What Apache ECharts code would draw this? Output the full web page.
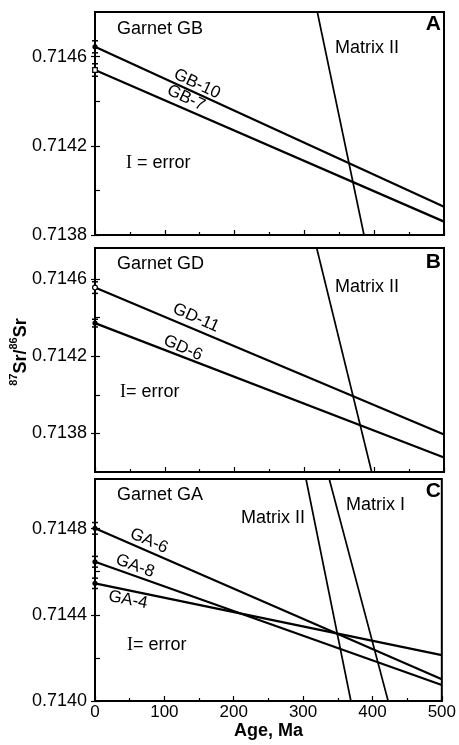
<!DOCTYPE html>
<html><head><meta charset="utf-8">
<script src="https://cdn.jsdelivr.net/npm/echarts@6/dist/echarts.min.js"></script>
<style>html,body{margin:0;padding:0;background:#fff}#c{width:459px;height:745px}</style>
</head><body><div id="c"></div>
<script>
// ---------- data ----------
const ages = [0, 500];
// Panel A (Garnet GB)
const gb10 = [0.714644, 0.713927];
const gb7  = [0.714540, 0.713860];
const matrixIIA = [[318.5, 0.7148], [385.4, 0.7138]];
// Panel B (Garnet GD)
const gd11 = [0.714555, 0.713794];
const gd6  = [0.714371, 0.713675];
const matrixIIB = [[317.6, 0.71476], [396.4, 0.7136]];
// Panel C (Garnet GA)
const ga6 = [0.714801, 0.714101];
const ga8 = [0.714646, 0.714074];
const ga4 = [0.714546, 0.714213];
const matrixIIC = [[304.2, 0.71503], [368.9, 0.7140]];
const matrixIC  = [[337.7, 0.71503], [422.6, 0.7140]];
// error bars at age 0: [age, value, half error, marker (0 filled circle, 1 open circle, 2 open square)]
const errA = [[0, 0.714644, 0.000027, 0], [0, 0.714540, 0.000028, 2]];
const errB = [[0, 0.714555, 0.000030, 1], [0, 0.714371, 0.000020, 0]];
const errC = [[0, 0.714801, 0.000027, 0], [0, 0.714646, 0.000025, 0], [0, 0.714546, 0.000024, 0]];
// axes
const xTickLabels = [0, 100, 200, 300, 400, 500];
const yExtA = [0.7138, 0.7148];
const yExtB = [0.7136, 0.71476];
const yExtC = [0.7140, 0.71503];
const yLabelsA = [0.7138, 0.7142, 0.7146];
const yMinorA  = [0.7140, 0.7144];
const yLabelsB = [0.7138, 0.7142, 0.7146];
const yMinorB  = [0.7140, 0.7144];
const yLabelsC = [0.7140, 0.7144, 0.7148];
const yMinorC  = [0.7142, 0.7146];

// ---------- chart ----------
const FONT = "'Liberation Sans', Arial, Helvetica, sans-serif";
const rects = [
  {left: 95, top: 12,  width: 349, height: 223},
  {left: 95, top: 248, width: 349, height: 224},
  {left: 95, top: 479, width: 349, height: 222}
];
const yExts = [yExtA, yExtB, yExtC];
const yLabs = [yLabelsA, yLabelsB, yLabelsC];
const yMins = [yMinorA, yMinorB, yMinorC];

const grids = [], xAxes = [], yAxes = [], series = [];
rects.forEach((r, i) => {
  grids.push(Object.assign({show: true, borderColor: '#000', borderWidth: 2, backgroundColor: 'transparent'}, r));
});
// extra grids for outside parts of major y ticks
rects.forEach((r) => grids.push(Object.assign({show: false}, r)));

rects.forEach((r, i) => {
  xAxes.push({
    gridIndex: i, type: 'value', min: ages[0], max: ages[1], interval: 100,
    axisLine: {show: true, lineStyle: {color: '#000', width: 2}},
    axisTick: {show: true, inside: true, length: 5, lineStyle: {color: '#000', width: 1.2}},
    minorTick: {show: true, splitNumber: 2, length: 3, lineStyle: {color: '#000', width: 1.2}},
    splitLine: {show: false}, minorSplitLine: {show: false},
    axisLabel: {show: i === 2, customValues: xTickLabels, color: '#000', fontSize: 17, fontFamily: FONT, margin: 3},
    name: i === 2 ? 'Age, Ma' : '', nameLocation: 'middle', nameGap: 20,
    nameTextStyle: {color: '#000', fontSize: 18, fontWeight: 'bold', fontFamily: FONT}
  });
  yAxes.push({
    gridIndex: i, type: 'value', min: yExts[i][0], max: yExts[i][1],
    axisLine: {show: true, lineStyle: {color: '#000', width: 2}},
    axisTick: {show: true, inside: true, length: 5, customValues: yLabs[i].concat(yMins[i]), lineStyle: {color: '#000', width: 1.2}},
    splitLine: {show: false},
    axisLabel: {show: true, customValues: yLabs[i], color: '#000', fontSize: 18, fontFamily: FONT, margin: 8,
      formatter: v => v.toFixed(4)}
  });
});
rects.forEach((r, i) => {
  xAxes.push({gridIndex: 3 + i, type: 'value', min: ages[0], max: ages[1], show: false});
  yAxes.push({
    gridIndex: 3 + i, type: 'value', min: yExts[i][0], max: yExts[i][1],
    axisLine: {show: false},
    axisTick: {show: true, inside: false, length: 4, customValues: yLabs[i], lineStyle: {color: '#000', width: 1.2}},
    splitLine: {show: false}, axisLabel: {show: false}
  });
});

function lineSeries(i, pts, w) {
  return {type: 'line', xAxisIndex: i, yAxisIndex: i, data: pts, symbol: 'none', silent: true,
    clip: true, lineStyle: {color: '#000', width: w}, z: 3};
}
function garnet(i, vals) { return lineSeries(i, ages.map((a, k) => [a, vals[k]]), 2.2); }

function renderErr(params, api) {
  const x = api.value(0), v = api.value(1), e = api.value(2), t = api.value(3);
  const c = api.coord([x, v]), lo = api.coord([x, v - e]), hi = api.coord([x, v + e]);
  const cw = 3, st = {stroke: '#000', lineWidth: 1.5};
  const ch = [
    {type: 'line', shape: {x1: c[0], y1: hi[1], x2: c[0], y2: lo[1]}, style: st},
    {type: 'line', shape: {x1: c[0] - cw, y1: hi[1], x2: c[0] + cw, y2: hi[1]}, style: st},
    {type: 'line', shape: {x1: c[0] - cw, y1: lo[1], x2: c[0] + cw, y2: lo[1]}, style: st}
  ];
  if (t === 0) ch.push({type: 'circle', shape: {cx: c[0], cy: c[1], r: 2.6}, style: {fill: '#000'}});
  else if (t === 1) ch.push({type: 'circle', shape: {cx: c[0], cy: c[1], r: 2.4}, style: {fill: '#fff', stroke: '#000', lineWidth: 1.2}});
  else ch.push({type: 'rect', shape: {x: c[0] - 2.3, y: c[1] - 2.3, width: 4.6, height: 4.6}, style: {fill: '#fff', stroke: '#000', lineWidth: 1.2}});
  return {type: 'group', children: ch};
}
function errSeries(i, d) {
  return {type: 'custom', xAxisIndex: i, yAxisIndex: i, data: d, renderItem: renderErr, silent: true, clip: false, z: 5};
}

series.push(garnet(0, gb10), garnet(0, gb7), lineSeries(0, matrixIIA, 1.7), errSeries(0, errA));
series.push(garnet(1, gd11), garnet(1, gd6), lineSeries(1, matrixIIB, 1.7), errSeries(1, errB));
series.push(garnet(2, ga6), garnet(2, ga8), garnet(2, ga4), lineSeries(2, matrixIIC, 1.7), lineSeries(2, matrixIC, 1.7), errSeries(2, errC));

function txt(text, x, y, opts) {
  return Object.assign({type: 'text', x: x, y: y, z: 10, silent: true,
    style: Object.assign({text: text, fill: '#000', font: '18px ' + FONT, align: 'left', verticalAlign: 'middle'}, (opts && opts.style) || {})},
    opts && opts.rotation !== undefined ? {rotation: opts.rotation} : {});
}
const deg = Math.PI / 180;
const errRich = {s: {fontFamily: "'Liberation Serif', 'Times New Roman', serif", fontSize: 18, fill: '#000'},
                 t: {fontFamily: FONT, fontSize: 18, fill: '#000'}};
function errText(str, x, y) {
  return {type: 'text', x: x, y: y, z: 10, silent: true,
    style: {text: str, rich: errRich, fill: '#000', fontSize: 18, fontFamily: FONT, align: 'left', verticalAlign: 'middle'}};
}
const boldLetter = (t, x, y) => txt(t, x, y, {style: {font: 'bold 21px ' + FONT, align: 'right'}});
const rotLabel = (t, x, y, a) => txt(t, x, y, {rotation: -a * deg, style: {font: '17px ' + FONT, align: 'center'}});

const graphic = [
  // panel A
  txt('Garnet GB', 117, 29), txt('Matrix II', 335, 48), boldLetter('A', 441, 24),
  rotLabel('GB-10', 197, 84, 25), rotLabel('GB-7', 186, 98, 25), errText('{s|I}{t| = error}', 126, 163),
  // panel B
  txt('Garnet GD', 117, 264), txt('Matrix II', 335, 287), boldLetter('B', 441, 262),
  rotLabel('GD-11', 196, 318, 24), rotLabel('GD-6', 183, 348, 24), errText('{s|I}{t|= error}', 120, 392),
  // panel C
  txt('Garnet GA', 117, 495), txt('Matrix II', 241, 518), txt('Matrix I', 346, 505), boldLetter('C', 441, 491),
  rotLabel('GA-6', 149, 541, 24), rotLabel('GA-8', 135, 566, 20), rotLabel('GA-4', 128, 600, 11),
  errText('{s|I}{t|= error}', 127, 645),
  // y title
  {type: 'text', x: 19, y: 352, rotation: Math.PI / 2, z: 10, silent: true,
   style: {text: '{sup|87}{main|Sr/}{sup|86}{main|Sr}', align: 'center', verticalAlign: 'middle',
     rich: {main: {fontSize: 18, fontWeight: 'bold', fontFamily: FONT, fill: '#000', verticalAlign: 'bottom', lineHeight: 22},
            sup: {fontSize: 11, fontWeight: 'bold', fontFamily: FONT, fill: '#000', verticalAlign: 'top', lineHeight: 22}}}}
];

const chart = echarts.init(document.getElementById('c'), null, {renderer: 'canvas'});
chart.setOption({
  animation: false, backgroundColor: '#fff',
  grid: grids, xAxis: xAxes, yAxis: yAxes, series: series, graphic: graphic
});
</script></body></html>
